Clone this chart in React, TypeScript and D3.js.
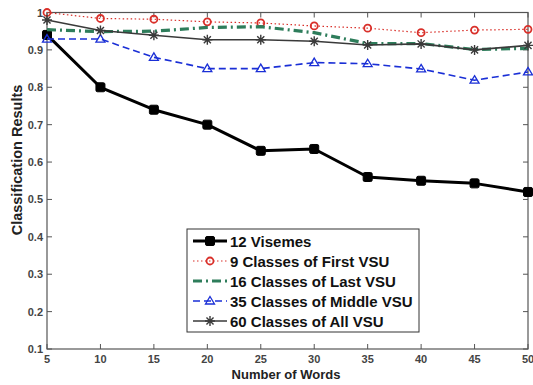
import React from "react";
import * as d3 from "d3";

const words = [5, 10, 15, 20, 25, 30, 35, 40, 45, 50];
const visemes12 = [0.94, 0.80, 0.74, 0.70, 0.63, 0.635, 0.56, 0.55, 0.543, 0.52];
const firstVSU9 = [1.0, 0.984, 0.982, 0.975, 0.972, 0.964, 0.958, 0.946, 0.953, 0.955];
const lastVSU16 = [0.954, 0.949, 0.950, 0.960, 0.962, 0.946, 0.917, 0.917, 0.901, 0.904];
const middleVSU35 = [0.929, 0.929, 0.880, 0.850, 0.850, 0.866, 0.863, 0.849, 0.819, 0.841];
const allVSU60 = [0.980, 0.952, 0.939, 0.927, 0.927, 0.923, 0.913, 0.916, 0.900, 0.912];
const yTicks = [0.1, 0.2, 0.3, 0.4, 0.5, 0.6, 0.7, 0.8, 0.9, 1];
const seriesNames = [
  "12 Visemes",
  "9 Classes of First VSU",
  "16 Classes of Last VSU",
  "35 Classes of Middle VSU",
  "60 Classes of All VSU",
];

type Marker = "square" | "circle" | "none" | "triangle" | "star";
interface Series {
  name: string;
  values: number[];
  color: string;
  width: number;
  dash: string;
  marker: Marker;
}

const series: Series[] = [
  { name: seriesNames[0], values: visemes12, color: "#000", width: 3, dash: "", marker: "square" },
  { name: seriesNames[1], values: firstVSU9, color: "#d9302a", width: 1.2, dash: "1.5 2.5", marker: "circle" },
  { name: seriesNames[2], values: lastVSU16, color: "#2e7d5b", width: 3.2, dash: "9 4 2 4", marker: "none" },
  { name: seriesNames[3], values: middleVSU35, color: "#1a2fd6", width: 1.6, dash: "7 4", marker: "triangle" },
  { name: seriesNames[4], values: allVSU60, color: "#3a3a3a", width: 1.6, dash: "", marker: "star" },
];

const FONT = "'Liberation Sans', Arial, sans-serif";

function MarkerShape({ type, x, y, color }: { type: Marker; x: number; y: number; color: string }) {
  if (type === "square")
    return <rect x={x - 4.5} y={y - 4.5} width={9} height={9} rx={1.5} fill={color} stroke={color} strokeWidth={1} />;
  if (type === "circle")
    return <circle cx={x} cy={y} r={3.5} fill="none" stroke={color} strokeWidth={1.8} />;
  if (type === "triangle")
    return (
      <path
        d={`M${x},${y - 4.5}L${x + 4.5},${y + 3}L${x - 4.5},${y + 3}Z`}
        fill="none"
        stroke={color}
        strokeWidth={1.3}
      />
    );
  if (type === "star") {
    const r = 5;
    const d = [0, 45, 90, 135]
      .map((a) => {
        const rad = (a * Math.PI) / 180;
        const dx = r * Math.cos(rad);
        const dy = r * Math.sin(rad);
        return `M${x - dx},${y - dy}L${x + dx},${y + dy}`;
      })
      .join("");
    return <path d={d} stroke={color} strokeWidth={1.4} fill="none" />;
  }
  return null;
}

export default function App() {
  const W = 533;
  const H = 385;
  const left = 47;
  const right = 528;
  const top = 12.5;
  const bottom = 349;

  const x = d3.scaleLinear().domain([5, 50]).range([left, right]);
  const y = d3.scaleLinear().domain([0.1, 1]).range([bottom, top]);
  const line = d3
    .line<number>()
    .x((_, i) => x(words[i]))
    .y((v) => y(v));

  const tick = 5;
  const axisColor = "#555";

  const legX = 187;
  const legY = 229;
  const legW = 232;
  const legH = 103;
  const rowH = 20;

  return (
    <svg
      width={W}
      height={H}
      style={{ position: "absolute", left: 0, top: 0, background: "#fff" }}
      fontFamily={FONT}
    >
      <rect x={0} y={0} width={W} height={H} fill="#fff" />
      {/* axes box */}
      <rect x={left} y={top} width={right - left} height={bottom - top} fill="none" stroke={axisColor} strokeWidth={1.2} />
      {/* x ticks */}
      {words.map((w) => (
        <g key={"x" + w}>
          <line x1={x(w)} x2={x(w)} y1={bottom} y2={bottom - tick} stroke={axisColor} />
          <line x1={x(w)} x2={x(w)} y1={top} y2={top + tick} stroke={axisColor} />
          <text x={x(w)} y={bottom + 14} textAnchor="middle" fontSize={11} fontWeight="bold" fill="#444">
            {w}
          </text>
        </g>
      ))}
      {/* y ticks */}
      {yTicks.map((t) => (
        <g key={"y" + t}>
          <line x1={left} x2={left + tick} y1={y(t)} y2={y(t)} stroke={axisColor} />
          <line x1={right} x2={right - tick} y1={y(t)} y2={y(t)} stroke={axisColor} />
          <text x={left - 4} y={y(t) + 4} textAnchor="end" fontSize={11} fontWeight="bold" fill="#444">
            {t === 1 ? "1" : t.toFixed(1)}
          </text>
        </g>
      ))}
      {/* series */}
      {series.map((s) => (
        <g key={s.name}>
          <path
            d={line(s.values) || ""}
            fill="none"
            stroke={s.color}
            strokeWidth={s.width}
            strokeDasharray={s.dash || undefined}
            strokeLinejoin="round"
          />
          {s.values.map((v, i) => (
            <MarkerShape key={i} type={s.marker} x={x(words[i])} y={y(v)} color={s.color} />
          ))}
        </g>
      ))}
      {/* axis titles */}
      <text x={286} y={379} textAnchor="middle" fontSize={13} fontWeight="bold" fill="#222">
        Number of Words
      </text>
      <text
        transform={`translate(22,160) rotate(-90)`}
        textAnchor="middle"
        fontSize={14.5}
        fontWeight="bold"
        fill="#222"
      >
        Classification Results
      </text>
      {/* legend */}
      <rect x={legX} y={legY} width={legW} height={legH} fill="#fff" stroke="#333" strokeWidth={1} />
      {series.map((s, i) => {
        const cy = legY + 12 + i * rowH;
        return (
          <g key={"leg" + s.name}>
            <line
              x1={legX + 6}
              x2={legX + 40}
              y1={cy}
              y2={cy}
              stroke={s.color}
              strokeWidth={s.width}
              strokeDasharray={s.dash || undefined}
            />
            <MarkerShape type={s.marker} x={legX + 23} y={cy} color={s.color} />
            <text x={legX + 43} y={cy + 5.5} fontSize={15} fontWeight="bold" fill="#111">
              {s.name}
            </text>
          </g>
        );
      })}
    </svg>
  );
}
